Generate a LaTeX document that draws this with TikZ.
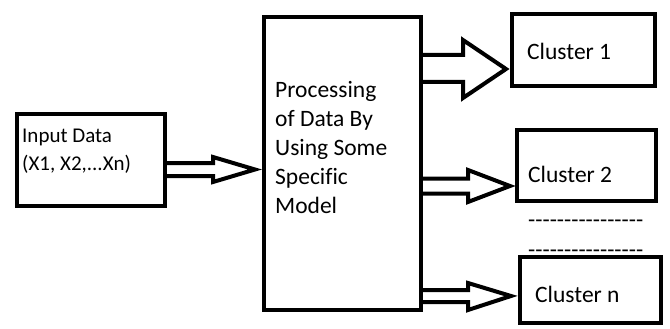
\documentclass[tikz,border=0pt]{standalone}
\usepackage{fontspec}
\setmainfont{Carlito}[Ligatures=NoCommon]
\usetikzlibrary{calc}
\newcommand\hy{-\kern0pt}
\begin{document}
\begin{tikzpicture}[x=1pt,y=-1pt,
  box/.style={draw, line width=4pt, inner sep=0},
  txt/.style={inner sep=0, anchor=base west, align=left, font=\fontsize{23.5}{29}\selectfont},
  smalltxt/.style={txt, font=\fontsize{21}{28}\selectfont},
  blk/.style={draw, line width=4pt, line join=miter, miter limit=12}]
\useasboundingbox (0,0) rectangle (670,329);
% boxes
\node[box, minimum width=148pt, minimum height=92pt] (in) at (91,160) {};
\node[box, minimum width=157pt, minimum height=293pt] (proc) at (342.5,163.5) {};
\node[box, minimum width=143pt, minimum height=72pt] (c1) at (583.5,50) {};
\node[box, minimum width=139pt, minimum height=71pt] (c2) at (586.5,165.5) {};
\node[box, minimum width=141pt, minimum height=66pt] (cn) at (590.5,290) {};
% texts (base anchor = baseline of the last line)
\node[smalltxt] (intext) at (22,170) {Input Data\\(X1, X2,...Xn)};
\node[txt] (proctext) at (275,213) {Processing\\of Data By\\Using Some\\Specific\\Model};
\node[txt] (c1text) at (527,60) {Cluster 1};
\node[txt] (c2text) at (528,182) {Cluster 2};
\node[txt] (cntext) at (535,302) {Cluster n};
\node[txt] (dash1) at (528,227) {\hy\hy\hy\hy\hy\hy\hy\hy\hy\hy\hy\hy\hy\hy\hy\hy};
\node[txt] (dash2) at (528,257) {\hy\hy\hy\hy\hy\hy\hy\hy\hy\hy\hy\hy\hy\hy\hy\hy};
% block arrows
\draw[blk] (in.east |- 0,163) -- (213,163) -- (213,157) -- ($(proc.west |- 0,169.5)+(-7,0)$) -- (213,182) -- (213,176) -- (in.east |- 0,176);
\draw[blk] (proc.east |- 0,55) -- (463,55) -- (463,40) -- ($(c1.west |- 0,69)+(-4,0)$) -- (463,98) -- (463,82) -- (proc.east |- 0,82);
\draw[blk] (proc.east |- 0,178.5) -- (468,178.5) -- (468,170) -- ($(c2.west |- 0,186)+(-5,0)$) -- (468,202) -- (468,193.5) -- (proc.east |- 0,193.5);
\draw[blk] (proc.east |- 0,290) -- (468,290) -- (468,283) -- ($(cn.west |- 0,296)+(-7,0)$) -- (468,310) -- (468,302) -- (proc.east |- 0,302);
\end{tikzpicture}
\end{document}
